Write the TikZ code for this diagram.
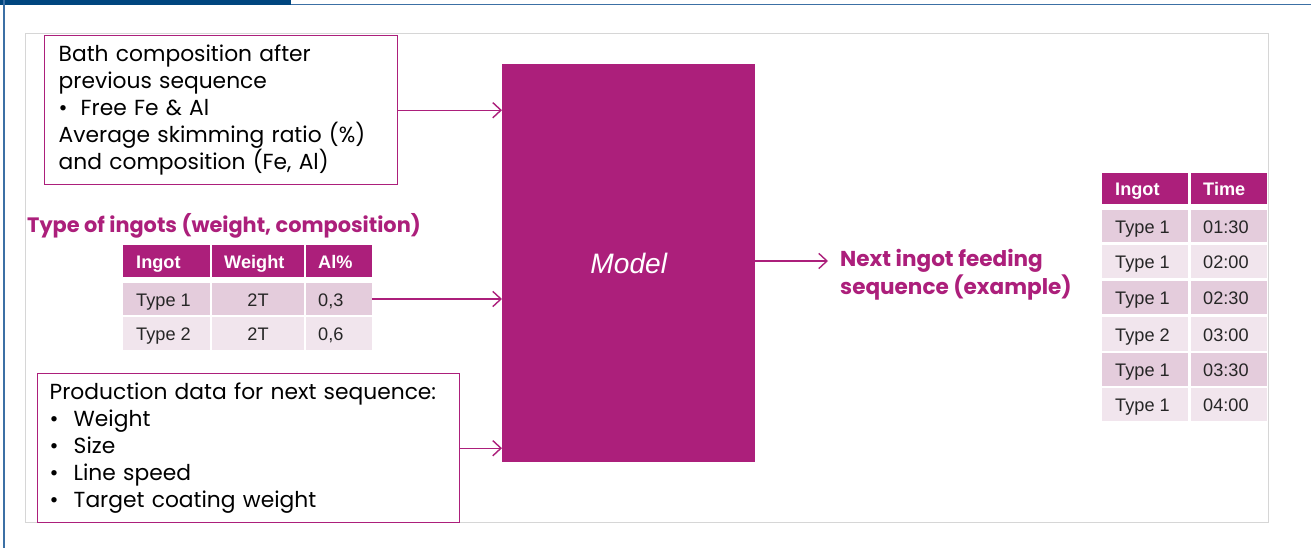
\documentclass[tikz,border=0pt]{standalone}
\usepackage{fontspec}
\setmainfont{Poppins}
\newfontfamily\tabfont{Liberation Sans}
\usetikzlibrary{arrows.meta}
\definecolor{CMAG}{RGB}{172,31,123}
\definecolor{CROWA}{RGB}{228,204,220}
\definecolor{CROWB}{RGB}{241,229,237}
\definecolor{CFRM}{RGB}{214,214,214}
\definecolor{CNAVY}{RGB}{0,70,127}
\definecolor{CRULE}{RGB}{60,112,165}

\tikzset{
  inbox/.style={draw=CMAG,line width=1.2pt,anchor=north west,align=left,inner ysep=0pt,
    font=\fontsize{18.6}{23}\selectfont},
  feed/.style={CMAG,line width=1.2pt,-{Straight Barb[length=7pt,width=13pt]}},
  hcell/.style={anchor=base west,inner sep=0pt,text=white,font=\tabfont\bfseries\fontsize{15.5}{18}\selectfont},
  bcell/.style={anchor=base west,inner sep=0pt,text=black!85,font=\tabfont\fontsize{15.5}{18}\selectfont},
  pinktitle/.style={anchor=west,inner sep=0pt,text=CMAG,align=left,font=\bfseries\fontsize{18.4}{24}\selectfont},
}

\begin{document}
\begin{tikzpicture}[x=0.03cm,y=-0.03cm]
  \useasboundingbox (0,0) rectangle (1311,548);
  \fill[white] (0,0) rectangle (1311,548);
  % page rules
  \fill[CNAVY] (0,0) rectangle (291,5);
  \draw[CRULE,line width=1.1pt] (291,4.5) -- (1311,4.5);
  \draw[CRULE,line width=1.3pt] (4,0) -- (4,548);
  \draw[CFRM,line width=0.8pt] (25,33) rectangle (1268,522);

  % central block
  \node[fill=CMAG,anchor=north west,minimum width=7.59cm,minimum height=11.94cm,inner sep=0pt,
    text=white,font=\tabfont\itshape\fontsize{24}{28}\selectfont] (model) at (502,64) {Model};

  % inputs
  \node[inbox,minimum width=10.59cm,minimum height=4.47cm,inner xsep=0.42cm,text width=9.75cm] (bath) at (44,35)
    {Bath composition after\\previous sequence\\\makebox[18.8pt][l]{•}Free Fe \& Al\\Average skimming ratio (\%)\\and composition (Fe, Al)};
  \node[inbox,minimum width=12.66cm,minimum height=4.47cm,inner xsep=0.36cm,text width=11.94cm] (prod) at (37,373)
    {Production data for next sequence:\\\makebox[20.5pt][l]{•}Weight\\\makebox[20.5pt][l]{•}Size\\\makebox[20.5pt][l]{•}Line speed\\\makebox[20.5pt][l]{•}Target coating weight};
  \node[pinktitle,font=\bfseries\fontsize{17.8}{24}\selectfont] (ingtitle) at (27,226) {Type of ingots (weight, composition)};

  % ingot table
  \fill[CMAG] (123,245) rectangle (210,277);
  \fill[CMAG] (212,245) rectangle (304,277);
  \fill[CMAG] (306,245) rectangle (372,277);
  \fill[CROWA] (123,283) rectangle (210,315);
  \fill[CROWA] (212,283) rectangle (304,315);
  \fill[CROWA] (306,283) rectangle (372,315);
  \fill[CROWB] (123,317) rectangle (210,350);
  \fill[CROWB] (212,317) rectangle (304,350);
  \fill[CROWB] (306,317) rectangle (372,350);
  \node[hcell] (th1) at (136,268) {Ingot};
  \node[hcell] (th2) at (224,268) {Weight};
  \node[hcell] (th3) at (318,268) {Al\%};
  \node[bcell] (ta1) at (136,306) {Type 1};
  \node[bcell,anchor=base] (ta2) at (258,306) {2T};
  \node[bcell] (ta3) at (318,306) {0,3};
  \node[bcell] (tb1) at (136,340.5) {Type 2};
  \node[bcell,anchor=base] (tb2) at (258,340.5) {2T};
  \node[bcell] (tb3) at (318,340.5) {0,6};
  \coordinate (ingout) at (372,299);

  % arrows into the model
  \draw[feed] (bath.east) -- (bath.east -| model.west);
  \draw[feed] (ingout) -- (ingout -| model.west);
  \draw[feed] (prod.east) -- (prod.east -| model.west);

  % output
  \node[pinktitle] (nextseq) at (840,275) {Next ingot feeding\\sequence (example)};
  \draw[feed,shorten >=0.36cm] (model.east |- 0,261) -- (nextseq.west |- 0,261);

  % feeding sequence table
  \fill[CMAG] (1102,173) rectangle (1188,204);
  \fill[CMAG] (1191,173) rectangle (1267,204);
  \fill[CROWA] (1102,210) rectangle (1188,242);
  \fill[CROWA] (1191,210) rectangle (1267,242);
  \fill[CROWB] (1102,245) rectangle (1188,278);
  \fill[CROWB] (1191,245) rectangle (1267,278);
  \fill[CROWA] (1102,281) rectangle (1188,314);
  \fill[CROWA] (1191,281) rectangle (1267,314);
  \fill[CROWB] (1102,317) rectangle (1188,351);
  \fill[CROWB] (1191,317) rectangle (1267,351);
  \fill[CROWA] (1102,353) rectangle (1188,386);
  \fill[CROWA] (1191,353) rectangle (1267,386);
  \fill[CROWB] (1102,388) rectangle (1188,421);
  \fill[CROWB] (1191,388) rectangle (1267,421);
  \node[hcell] (sh1) at (1115,195.5) {Ingot};
  \node[hcell] (sh2) at (1203,195.5) {Time};
  \node[bcell] (s11) at (1115,233) {Type 1};
  \node[bcell] (s12) at (1203,233) {01:30};
  \node[bcell] (s21) at (1115,268.5) {Type 1};
  \node[bcell] (s22) at (1203,268.5) {02:00};
  \node[bcell] (s31) at (1115,304.5) {Type 1};
  \node[bcell] (s32) at (1203,304.5) {02:30};
  \node[bcell] (s41) at (1115,341) {Type 2};
  \node[bcell] (s42) at (1203,341) {03:00};
  \node[bcell] (s51) at (1115,376.5) {Type 1};
  \node[bcell] (s52) at (1203,376.5) {03:30};
  \node[bcell] (s61) at (1115,411.5) {Type 1};
  \node[bcell] (s62) at (1203,411.5) {04:00};
\end{tikzpicture}
\end{document}
